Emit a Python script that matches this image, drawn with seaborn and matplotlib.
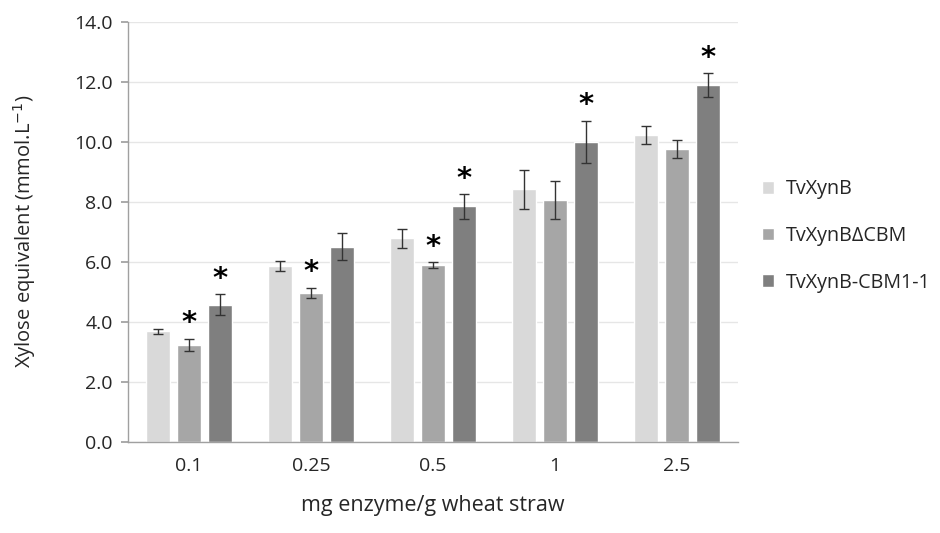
import numpy as np
import matplotlib
matplotlib.use("Agg")
import matplotlib.pyplot as plt
import seaborn as sns
import pandas as pd

# Data
doses = ["0.1", "0.25", "0.5", "1", "2.5"]
enzymes = ["TvXynB", "TvXynB\u0394CBM", "TvXynB-CBM1-1"]
xyn_b = [3.68, 5.85, 6.78, 8.42, 10.22]
xyn_dcbm = [3.24, 4.96, 5.88, 8.06, 9.77]
xyn_cbm11 = [4.57, 6.50, 7.85, 10.00, 11.88]
err_b = [0.07, 0.17, 0.32, 0.65, 0.30]
err_dcbm = [0.20, 0.18, 0.10, 0.64, 0.30]
err_cbm11 = [0.35, 0.45, 0.41, 0.70, 0.40]
# significance stars (True = star above bar)
star_b = [False, False, False, False, False]
star_dcbm = [True, True, True, False, False]
star_cbm11 = [True, False, True, True, True]

colors = ["#d9d9d9", "#a6a6a6", "#7f7f7f"]

df = pd.DataFrame({
    "dose": doses * 3,
    "enzyme": [enzymes[0]] * 5 + [enzymes[1]] * 5 + [enzymes[2]] * 5,
    "value": xyn_b + xyn_dcbm + xyn_cbm11,
})
errs = [err_b, err_dcbm, err_cbm11]
stars = [star_b, star_dcbm, star_cbm11]

sns.set_theme(style="white")
plt.rcParams["font.family"] = ["Open Sans", "DejaVu Sans"]

fig = plt.figure(figsize=(9.4, 5.33), dpi=100)
ax = fig.add_axes([0.136, 0.171, 0.649, 0.788])

sns.barplot(data=df, x="dose", y="value", hue="enzyme", order=doses,
            hue_order=enzymes, palette=colors, errorbar=None,
            width=0.76, gap=0.22, ax=ax, zorder=2)

# error bars and stars from the bar patches
for container, e, s in zip(ax.containers, errs, stars):
    for bar, err, st in zip(container, e, s):
        xc = bar.get_x() + bar.get_width() / 2
        h = bar.get_height()
        ax.errorbar(xc, h, yerr=err, fmt="none", ecolor="#333333",
                    elinewidth=1, capsize=3.5, capthick=1, zorder=3)
        if st:
            ax.text(xc, h + err + 0.05, "*", ha="center", va="bottom",
                    fontsize=21, fontweight="bold", color="black",
                    family="DejaVu Sans")

ax.set_ylim(0, 14)
ax.set_xlim(-0.5, 4.5)
ax.set_yticks(np.arange(0, 14.1, 2))
ax.set_yticklabels([f"{v:.1f}" for v in np.arange(0, 14.1, 2)], fontsize=14)
ax.tick_params(axis="x", which="major", length=0, labelsize=14, pad=11)
ax.set_xticks(np.arange(0.5, 4.5, 1), minor=True)
ax.tick_params(axis="x", which="minor", length=6, color="#a0a0a0", width=1)
ax.tick_params(axis="y", length=5, color="#a0a0a0", left=True, pad=6)
ax.yaxis.grid(True, color="#e6e6e6", linewidth=1, zorder=0)
ax.set_axisbelow(True)

for sp in ["top", "right"]:
    ax.spines[sp].set_visible(False)
for sp in ["left", "bottom"]:
    ax.spines[sp].set_color("#a0a0a0")
    ax.spines[sp].set_linewidth(1)

ax.set_xlabel("mg enzyme/g wheat straw", fontsize=15.5, labelpad=14)
ax.set_ylabel("Xylose equivalent (mmol.L$^{-1}$)", fontsize=14.5, labelpad=26)

leg = ax.legend(loc="center left", bbox_to_anchor=(1.01, 0.49), frameon=False,
                fontsize=14.2, labelspacing=1.35, handlelength=0.6,
                handleheight=0.6, handletextpad=0.6)

fig.savefig("out.png", dpi=100)
